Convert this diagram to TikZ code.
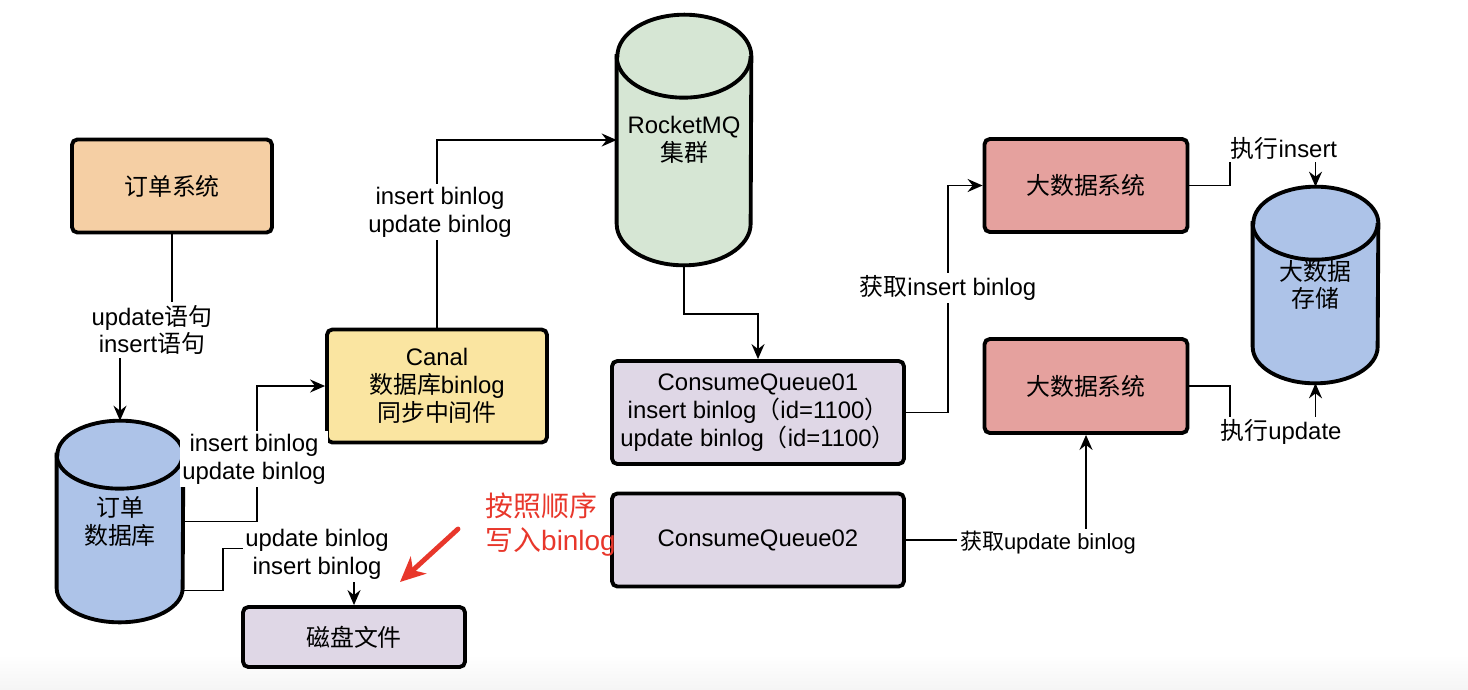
\documentclass[tikz,border=0pt]{standalone}
\usepackage{fontspec}
\setmainfont{Liberation Sans}
\newfontfamily\cjk{Noto Sans CJK SC}
\usepackage{xcolor}
\usetikzlibrary{arrows.meta, positioning, calc, backgrounds}

\definecolor{orderfill}{HTML}{F5CFA4}
\definecolor{canalfill}{HTML}{FAE5A1}
\definecolor{mqfill}{HTML}{D6E6D4}
\definecolor{queuefill}{HTML}{DFD7E6}
\definecolor{bigfill}{HTML}{E5A19E}
\definecolor{dbfill}{HTML}{ADC3E8}
\definecolor{notered}{HTML}{E8372B}

\newcommand{\zh}[1]{{\cjk #1}}
% cylinder outline behind a named node: node, fill, x radius, y radius
\newcommand{\dbcyl}[4]{%
  \begin{pgfonlayer}{background}
    \draw[cylline, fill=#2] ($(#1.north west)+(0,-#4)$) -- ($(#1.south west)+(0,#4)$)
      arc[start angle=180, end angle=360, x radius=#3, y radius=#4]
      -- ($(#1.north east)+(0,-#4)$)
      arc[start angle=0, end angle=180, x radius=#3, y radius=#4] -- cycle;
    \draw[cylline] ($(#1.north west)+(0,-#4)$)
      arc[start angle=180, end angle=360, x radius=#3, y radius=#4];
  \end{pgfonlayer}}

\tikzset{
  every node/.style={font=\fontsize{13.6}{15.8}\selectfont},
  zhfont/.style={font=\fontsize{13.6}{15.8}\selectfont\cjk},
  box/.style={draw, line width=2.2pt, rounded corners=3pt, align=center, inner sep=0pt},
  dbbox/.style={align=center, inner sep=0pt},
  cylline/.style={line width=2.2pt},
  flow/.style={line width=1.1pt, -{Stealth[length=3mm, width=2.6mm, inset=1mm]}},
  lbl/.style={fill=white, inner sep=1.5pt, align=center},
  redarrow/.style={notered, line width=2.8pt, line cap=round, -{Stealth[length=5mm, width=4.6mm, inset=1.5mm]}},
}

\begin{document}
\begin{tikzpicture}[x=0.02cm, y=0.02cm]
  \useasboundingbox (0,0) rectangle (1468,-690);
  \begin{pgfonlayer}{background}
    \shade[top color=white, bottom color=black!4] (0,-655) rectangle (1468,-690);
  \end{pgfonlayer}

  % left part
  \node[box, zhfont, fill=orderfill, minimum width=4cm, minimum height=1.86cm] (order) at (172,-186) {订单系统};
  \node[dbbox, zhfont, minimum width=2.52cm, minimum height=4.02cm] (orderdb) at (120,-521.5) {订单\\数据库};
  \dbcyl{orderdb}{dbfill}{1.26cm}{0.68cm}
  \node[box, fill=canalfill, minimum width=4.4cm, minimum height=2.26cm] (canal) at (437,-386) {Canal\\\zh{数据库}binlog\\\zh{同步中间件}};
  \node[box, zhfont, fill=queuefill, minimum width=4.44cm, minimum height=1.2cm] (disk) at (354,-637) {磁盘文件};

  % rocketmq and queues
  \node[dbbox, minimum width=2.68cm, minimum height=5cm] (mq) at (684,-140) {RocketMQ\\\zh{集群}};
  \dbcyl{mq}{mqfill}{1.34cm}{0.83cm}
  \node[box, fill=queuefill, minimum width=5.84cm, minimum height=2.06cm] (cq1) at (758,-412.5)
    {ConsumeQueue01\\insert binlog\zh{（}id=1100\zh{）}\\update binlog\zh{（}id=1100\zh{）}};
  \node[box, fill=queuefill, minimum width=5.84cm, minimum height=1.86cm] (cq2) at (758,-540) {ConsumeQueue02};

  % big data side
  \node[box, zhfont, fill=bigfill, minimum width=4.06cm, minimum height=1.86cm] (big1) at (1086,-185.5) {大数据系统};
  \node[box, zhfont, fill=bigfill, minimum width=4.06cm, minimum height=1.88cm] (big2) at (1086,-386) {大数据系统};
  \node[dbbox, zhfont, minimum width=2.5cm, minimum height=3.92cm] (bigdb) at (1315.5,-285) {大数据\\存储};
  \dbcyl{bigdb}{dbfill}{1.25cm}{0.73cm}

  % connectors
  \draw[flow] (order.south) -- ++(0,-98) -| (orderdb.north);
  \node[lbl] (sqlnote) at (152,-330) {update\zh{语句}\\insert\zh{语句}};

  \draw[flow] (orderdb.east) -- ++(74,0) |- (canal.west);
  \node[lbl] (binlog1) at (254,-459) {insert binlog\\update binlog};

  \draw[flow] ($(orderdb.east)+(0,-69)$) -- ++(40,0) -- ++(0,42) -| (disk.north);
  \node[lbl] (binlog2) at (317,-554) {update binlog\\insert binlog};

  \draw[flow] (canal.north) |- (mq.west);
  \node[lbl] (binlog3) at (440,-212) {insert binlog\\update binlog};

  \draw[flow] (mq.south) -- ++(0,-49) -| (cq1.north);

  \draw[flow] (cq1.east) -- ++(42,0) |- (big1.west);
  \node[lbl] (fetch1) at (948,-288) {\zh{获取}insert binlog};

  \draw[flow] (cq2.east) -| (big2.south);
  \node[lbl, font=\fontsize{12.5}{14.5}\selectfont] (fetch2) at (1048,-543) {\zh{获取}update binlog};

  \draw[flow] (big1.east) -- ++(41,0) -- ++(0,38) -| (bigdb.north);
  \node[lbl] (exec1) at (1284,-148) {\zh{执行}insert};

  \draw[flow] (big2.east) -- ++(41,0) -- ++(0,-46) -| (bigdb.south);
  \node[lbl] (exec2) at (1281,-432) {\zh{执行}update};

  % red note
  \node[anchor=west, align=left, text=notered, inner sep=0pt,
        font=\fontsize{15.9}{19.3}\selectfont] (note) at (485,-524.5) {\zh{按照顺序}\\\zh{写入}binlog};
  \coordinate (redtail) at (458,-529);
  \coordinate (redtip) at (400,-582);
  \draw[redarrow] (redtail) -- (redtip);
\end{tikzpicture}
\end{document}
